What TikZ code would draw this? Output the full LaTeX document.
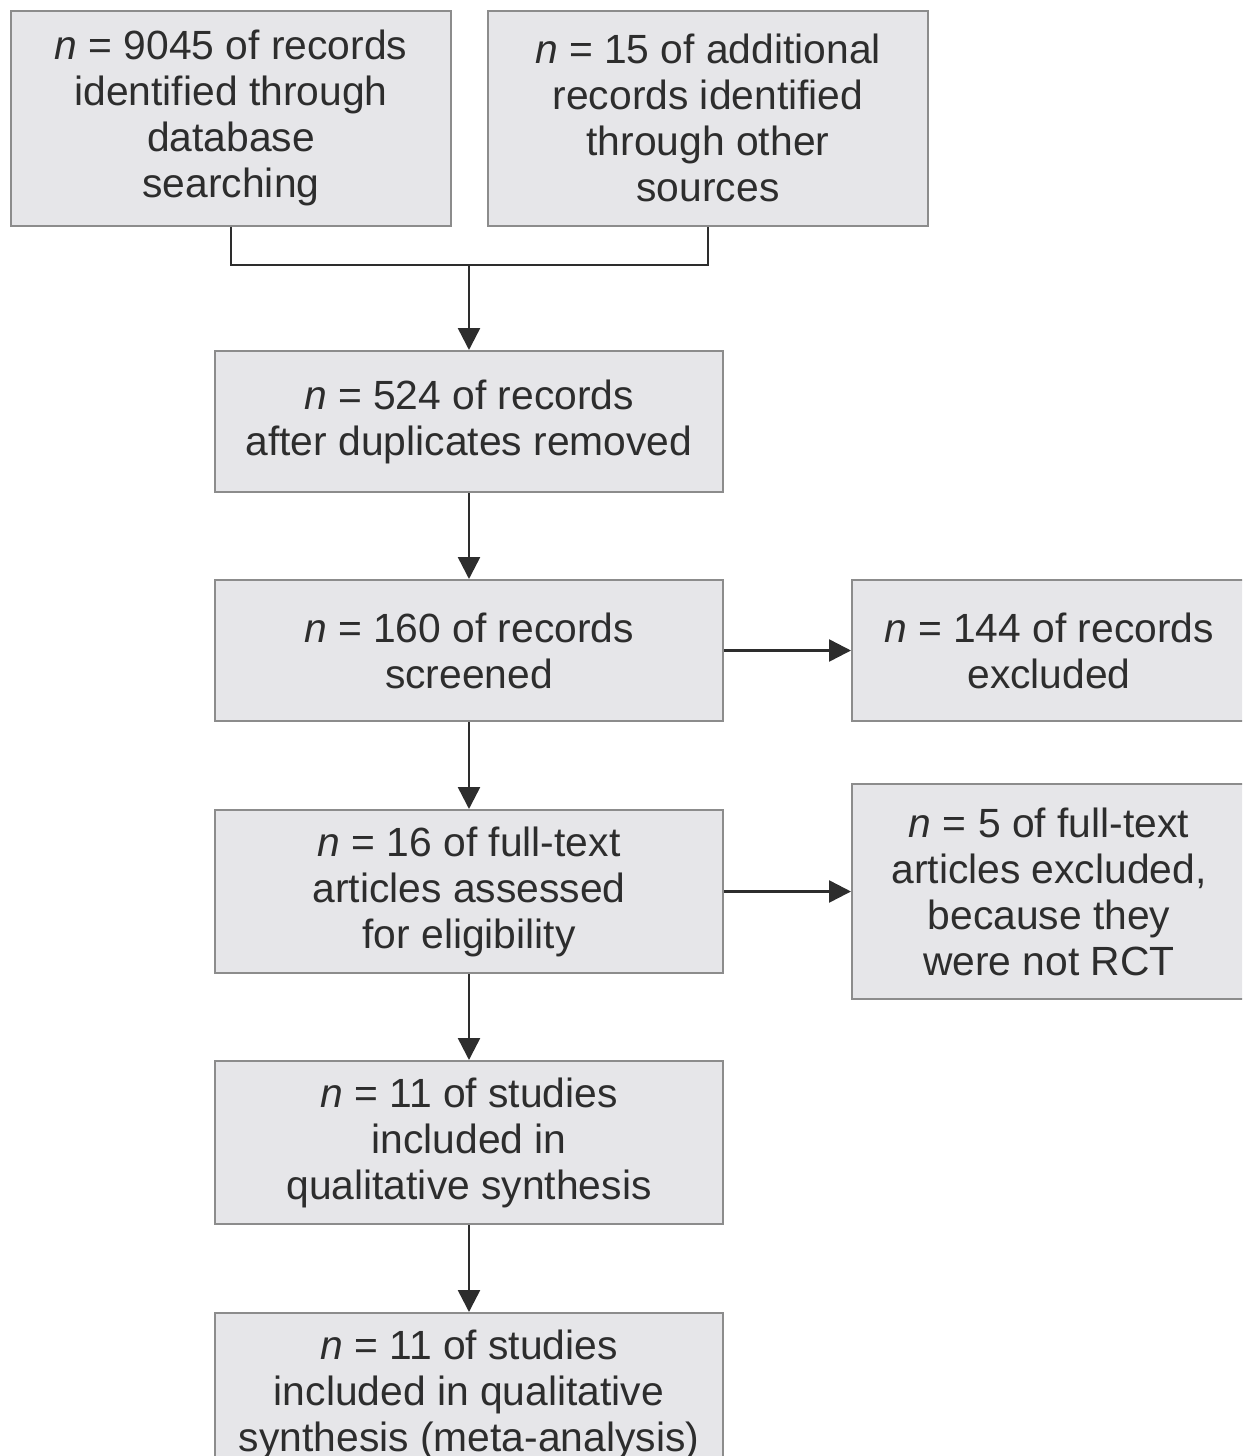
\documentclass[tikz,border=0pt]{standalone}
\usepackage{fontspec}
\setmainfont{Liberation Sans}
\usetikzlibrary{arrows.meta}
\definecolor{boxfill}{RGB}{230,230,233}
\definecolor{boxdraw}{RGB}{140,140,140}
\definecolor{ink}{RGB}{45,45,45}
\tikzset{
  box/.style={draw=boxdraw, fill=boxfill, line width=2pt, inner sep=0pt, align=center,
    text=ink, font=\fontsize{40.8}{46}\selectfont},
  conn/.style={draw=ink, line width=2.5pt},
  arr/.style={conn, -{Triangle[length=22pt,width=22pt]}}
}
\begin{document}
\begin{tikzpicture}[x=1pt,y=-1pt]
\useasboundingbox (0,0) rectangle (1242,1456);
\begin{scope}
\clip (0,0) rectangle (1242,1456);
\node[box, minimum width=440pt, minimum height=215pt] (a) at (231,118) {\textit{n} = 9045 of records\\identified through\\database\\searching};
\node[box, minimum width=440pt, minimum height=215pt] (b) at (708,118) {\textit{n} = 15 of additional\\records identified\\through other\\sources};
\node[box, minimum width=508pt, minimum height=141pt] (c) at (469,421.5) {\textit{n} = 524 of records\\after duplicates removed};
\node[box, minimum width=508pt, minimum height=141pt] (d) at (469,650.5) {\textit{n} = 160 of records\\screened};
\node[box, minimum width=394pt, minimum height=141pt] (e) at (1049,650.5) {\textit{n} = 144 of records\\excluded};
\node[box, minimum width=508pt, minimum height=163pt] (f) at (469,891.5) {\textit{n} = 16 of full-text\\articles assessed\\for eligibility};
\node[box, minimum width=394pt, minimum height=215pt] (g) at (1049,891.5) {\textit{n} = 5 of full-text\\articles excluded,\\because they\\were not RCT};
\node[box, minimum width=508pt, minimum height=163pt] (h) at (469,1142.5) {\textit{n} = 11 of studies\\included in\\qualitative synthesis};
\node[box, minimum width=508pt, minimum height=164pt, anchor=north] (i) at (469,1312) {\textit{n} = 11 of studies\\included in qualitative\\synthesis (meta-analysis)};
\end{scope}
\coordinate (j) at (469,265);
\draw[conn] (a.south) |- (j) -| (b.south);
\draw[arr] (j) -- (c.north);
\draw[arr] (c) -- (d);
\draw[arr] (d) -- (e);
\draw[arr] (d) -- (f);
\draw[arr] (f) -- (g);
\draw[arr] (f) -- (h);
\draw[arr] (h) -- (i);
\end{tikzpicture}
\end{document}
